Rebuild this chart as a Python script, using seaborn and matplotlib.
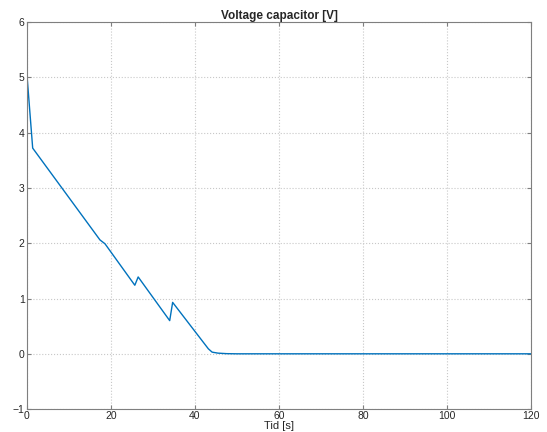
import pandas as pd
import matplotlib
matplotlib.use('Agg')
import matplotlib.pyplot as plt
import seaborn as sns

# Points
tid = [0, 1.4, 17.4, 18.6, 25.7, 26.5, 34.0, 34.7, 43.2, 44.1, 45.5, 47.5, 50, 120]
spenning = [5.08, 3.72, 2.06, 1.99, 1.24, 1.39, 0.60, 0.93, 0.09, 0.03, 0.012, 0.003, 0.0, 0.0]

x_ticks = [0, 20, 40, 60, 80, 100, 120]
y_ticks = [-1, 0, 1, 2, 3, 4, 5, 6]

df = pd.DataFrame({'tid': tid, 'spenning': spenning})

sns.set_style('white')
plt.rcParams['font.family'] = ['Liberation Sans', 'DejaVu Sans']

fig = plt.figure(figsize=(5.47, 4.32), dpi=100)
ax = fig.add_axes([0.049, 0.053, 0.922, 0.896])

sns.lineplot(data=df, x='tid', y='spenning', ax=ax, color='#0072BD', linewidth=1.0)

ax.set_xlim(0, 120)
ax.set_ylim(-1, 6)
ax.set_xticks(x_ticks)
ax.set_yticks(y_ticks)
ax.grid(True, linestyle=':', color='#c8c8c8', linewidth=0.8)
for s in ax.spines.values():
    s.set_color('#7f7f7f')
    s.set_linewidth(0.8)
ax.tick_params(direction='in', length=3, width=0.8, color='#7f7f7f',
               labelsize=7.5, labelcolor='#262626', top=True, right=True,
               bottom=True, left=True, pad=1.5)
ax.set_title('Voltage capacitor [V]', fontsize=8.5, fontweight='bold', pad=2)
ax.set_xlabel('Tid [s]', fontsize=8, labelpad=0)
ax.set_ylabel('')

fig.savefig('out.png', dpi=100, facecolor='white')
